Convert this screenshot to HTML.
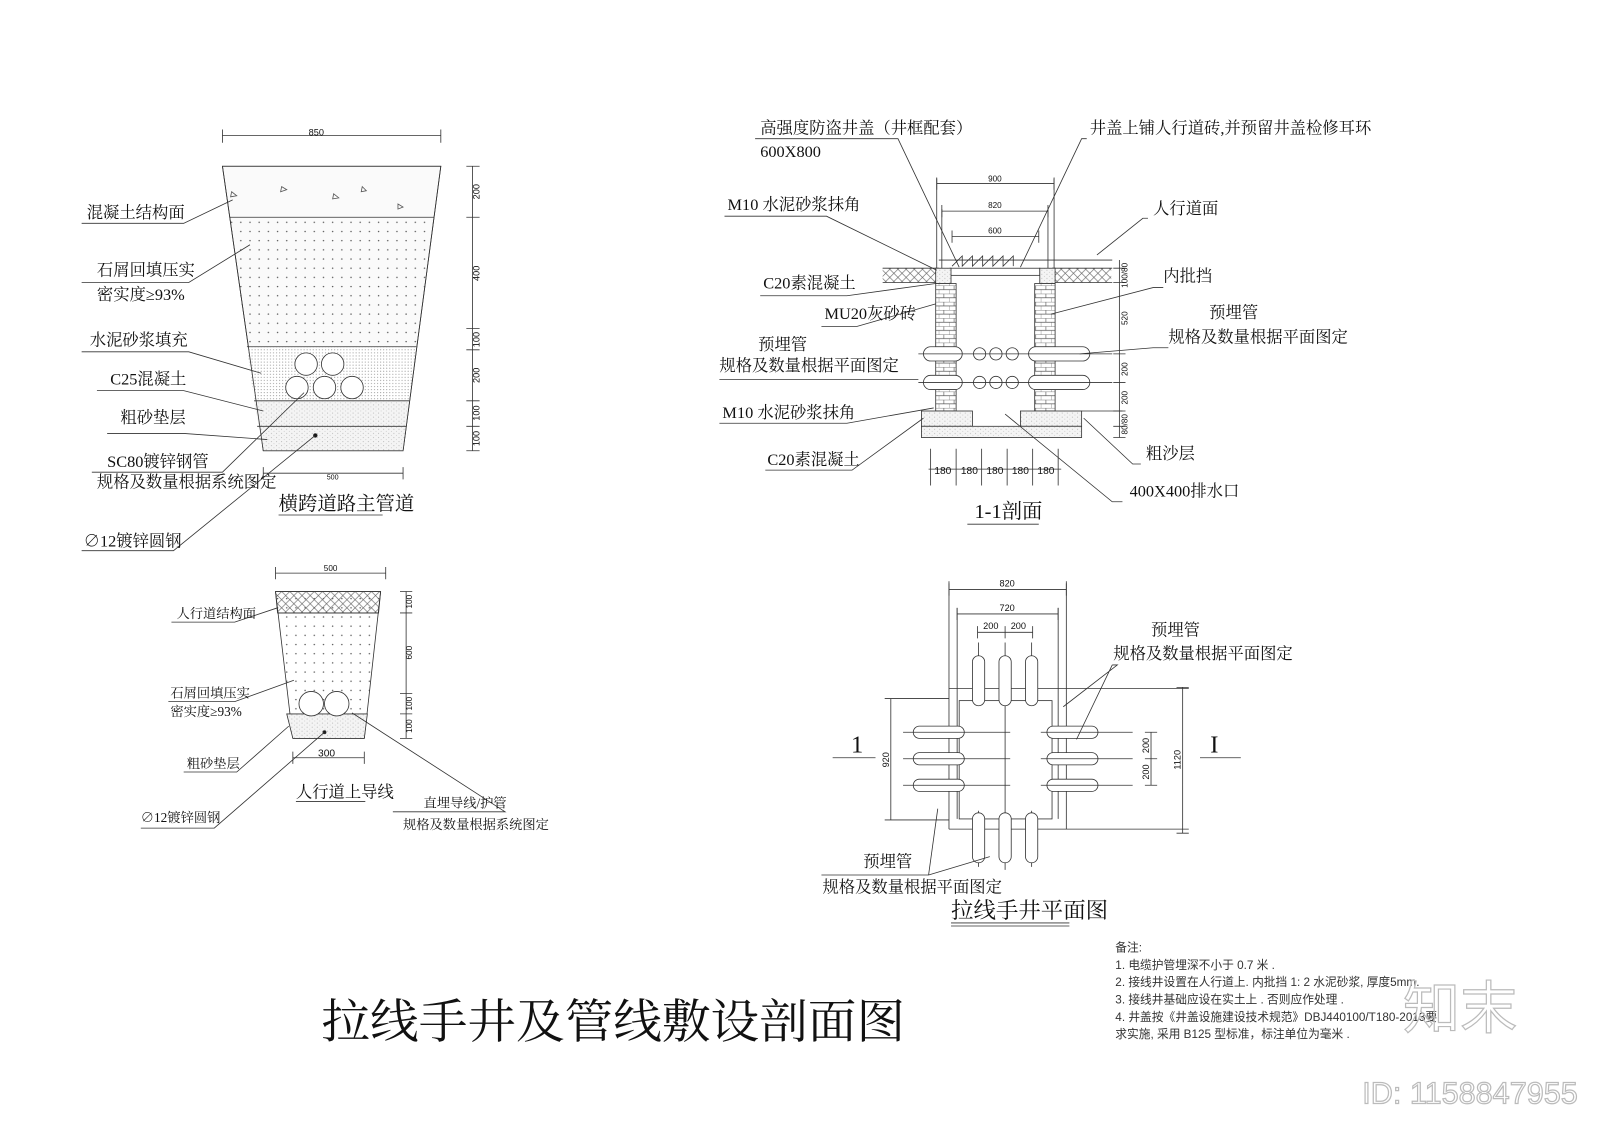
<!DOCTYPE html>
<html><head><meta charset="utf-8"><style>
html,body{margin:0;padding:0;background:#fff;}
svg{display:block}
text{font-family:"Liberation Serif","Noto Serif CJK SC","Noto Sans CJK SC",serif;fill:#111}
text.s,.s text{font-family:"Liberation Sans","Noto Sans CJK SC",sans-serif}
.wm{fill:none !important;stroke:#bbb;stroke-width:1.2}
.nt text{fill:#333}
</style></head><body>
<svg width="1600" height="1131" viewBox="0 0 1568 1109" preserveAspectRatio="none" xmlns="http://www.w3.org/2000/svg">
<defs>
<pattern id="dots" width="9" height="9" patternUnits="userSpaceOnUse"><circle cx="2" cy="2" r="0.7" fill="#555"/></pattern>
<pattern id="fine" width="3" height="3" patternUnits="userSpaceOnUse"><rect width="3" height="3" fill="#fff"/><circle cx="1" cy="1" r="0.5" fill="#888"/></pattern>
<pattern id="sand" width="5" height="4" patternUnits="userSpaceOnUse"><rect width="5" height="4" fill="#f4f4f4"/><circle cx="1" cy="1" r="0.5" fill="#aaa"/><circle cx="3.5" cy="3" r="0.4" fill="#bbb"/></pattern>
<pattern id="hatch" width="8" height="8" patternUnits="userSpaceOnUse"><path d="M0 8L8 0M0 0L8 8" stroke="#666" stroke-width="0.6"/></pattern>
<pattern id="brick" width="10" height="8" patternUnits="userSpaceOnUse"><rect width="10" height="8" fill="#fff"/><path d="M0 0H10M0 4H10M5 0V4M0 4V8" stroke="#555" stroke-width="0.6"/></pattern>
</defs>
<g stroke="#333" stroke-width="0.8" fill="none">
<!-- Diagram 1 -->
<path d="M218 133H432M218 127V140M432 127V140"/>
<polygon points="218,163 432,163 395,442 258,442" fill="#fafafa"/>
<polygon points="225,213 425,213 408,340 242,340" fill="url(#dots)" stroke="none"/>
<polygon points="242,340 408,340 401,393 249,393" fill="url(#fine)" stroke="none"/>
<polygon points="249,393 401,393 395,442 258,442" fill="url(#sand)" stroke="none"/>
<polygon points="218,163 432,163 395,442 258,442"/>
<path d="M225 213H425M242 340H408M249 393H401M252 418H398"/>
<g fill="#fff"><circle cx="300" cy="357" r="11"/><circle cx="326" cy="357" r="11"/><circle cx="291" cy="380" r="11"/><circle cx="318" cy="380" r="11"/><circle cx="345" cy="380" r="11"/></g>
<circle cx="309" cy="427" r="1.8" fill="#111"/>
<g fill="none" stroke="#555"><path d="M227 188l5 4-6 1zM276 183l5 3-6 2zM327 190l5 4-6 1zM355 183l4 4-5 1zM390 200l5 3-5 2z"/></g>
<path d="M463 163V442M457 163H470M457 213H470M457 322H470M457 343H470M457 393H470M457 418H470M457 442H470"/>
<path d="M258 464H395M258 458V470M395 458V470"/>
<path d="M80 219H180L228 196M80 277H185L245 240M80 345H185L256 366M95 383H180L258 403M105 425H180L262 431M90 463H218L298 385M273 505H375M80 540H170L309 427"/>
<!-- Diagram 2 -->
<path d="M270 562H378M270 556V568M378 556V568"/>
<polygon points="270,580 373,580 357,724 287,724" fill="url(#dots)"/>
<polygon points="270,580 373,580 371,601 272,601" fill="url(#hatch)"/>
<polygon points="281,700 360,700 357,724 287,724" fill="url(#sand)"/>
<path d="M272 601H371M281 700H360"/>
<circle cx="305" cy="690" r="12" fill="#fff"/><circle cx="330" cy="690" r="12" fill="#fff"/>
<circle cx="318" cy="718" r="1.5" fill="#111"/>
<path d="M398 580V724M392 580H404M392 601H404M392 680H404M392 700H404M392 724H404"/>
<path d="M287 743H357M287 737V749M357 737V749"/>
<path d="M168 610H230L272 596M165 688H230L288 667M180 757H232L283 712M138 812H210L318 718M290 786H358M385 796H495L345 699"/>
<!-- Diagram 3 section -->
<path d="M918 180H1033M918 174V186M1033 174V186M923 207H1027M923 201V213M1027 201V213M933 232H1018M933 226V238M1018 226V238"/>
<path d="M918 175V270M1033 175V270M923 205V270M1027 205V270"/>
<rect x="865" y="263" width="55" height="14" fill="url(#hatch)" stroke="none"/>
<rect x="1031" y="263" width="58" height="14" fill="url(#hatch)" stroke="none"/>
<path d="M865 263H920M865 277H920M1031 263H1090M1031 277H1090"/>
<rect x="931" y="263" width="88" height="7" fill="#fff"/>
<path d="M933 261l10 -10v10l10 -10v10l10 -10v10l10 -10v10l10 -10v10l10 -10v10"/>
<path d="M920 255H1090"/>
<rect x="917" y="263" width="15" height="15" fill="url(#sand)"/>
<rect x="1019" y="263" width="15" height="15" fill="url(#sand)"/>
<rect x="917" y="278" width="20" height="125" fill="url(#brick)"/>
<rect x="1014" y="278" width="20" height="125" fill="url(#brick)"/>
<rect x="903" y="403" width="50" height="15" fill="url(#sand)"/>
<rect x="1000" y="403" width="60" height="15" fill="url(#sand)"/>
<rect x="903" y="418" width="157" height="11" fill="url(#sand)"/>
<g fill="#fff"><rect x="905" y="340" width="38" height="14" rx="7"/><rect x="1008" y="340" width="60" height="14" rx="7"/><rect x="905" y="368" width="38" height="14" rx="7"/><rect x="1008" y="368" width="60" height="14" rx="7"/>
<circle cx="960" cy="347" r="6"/><circle cx="976" cy="347" r="6"/><circle cx="992" cy="347" r="6"/><circle cx="960" cy="375" r="6"/><circle cx="976" cy="375" r="6"/><circle cx="992" cy="375" r="6"/></g>
<path d="M900 347H1090M900 375H1090M1060 403H1100"/>
<path d="M1097 255V429M1091 263H1103M1091 277H1103M1091 347H1103M1091 375H1103M1091 403H1103M1091 418H1103M1091 429H1103"/>
<path d="M910 460H1040M912 440V476M937 440V476M962 440V476M987 440V476M1012 440V476M1037 440V476"/>
<path d="M740 136H880L940 262M1065 136H1060L1000 262M710 212H810L918 265M1125 214H1120L1075 250M745 290H830L917 278M1140 282H1130L1030 308M805 320H840L917 298M1145 341H1130L1058 347M705 372H900M705 415H830L915 400M750 461H835L905 410M1118 455H1110L1062 410M1100 492H1090L985 406M948 514H1018"/>
<!-- Diagram 4 plan -->
<path d="M930 578H1045M930 572V584M1045 572V584M938 602H1037M938 596V608M1037 596V608M958 620H1012M958 614V626M985 614V626M1012 614V626"/>
<path d="M930 570V813M1045 570V813M938 596V803M1037 596V803"/>
<path d="M930 675H1165M930 813H1165"/>
<rect x="940" y="687" width="91" height="116"/>
<path d="M873 685V804M867 685H930M867 804H930M1159 674V817M1153 674H1165M1153 817H1165M1128 718V770M1122 718H1134M1122 744H1134M1122 770H1134"/>
<path d="M985 630V853M959 630V680M1011 630V680M959 795V850M1011 795V850"/>
<g fill="#fff">
<rect x="953" y="643" width="12" height="49" rx="6"/><rect x="979" y="643" width="12" height="49" rx="6"/><rect x="1005" y="643" width="12" height="49" rx="6"/>
<rect x="953" y="797" width="12" height="49" rx="6"/><rect x="979" y="797" width="12" height="49" rx="6"/><rect x="1005" y="797" width="12" height="49" rx="6"/>
<rect x="895" y="712" width="50" height="12" rx="6"/><rect x="895" y="738" width="50" height="12" rx="6"/><rect x="895" y="764" width="50" height="12" rx="6"/>
<rect x="1026" y="712" width="50" height="12" rx="6"/><rect x="1026" y="738" width="50" height="12" rx="6"/><rect x="1026" y="764" width="50" height="12" rx="6"/>
</g>
<path d="M885 718H990M885 744H990M885 770H990M1020 718H1110M1020 744H1110M1020 770H1110"/>
<path d="M816 743H858M1176 743H1216M1090 652H1095L1042 693M1090 652L1055 725M805 858H910L919 793M910 858L970 840M932 905H1048M932 908H1048"/>
</g>
<g stroke="none">
<text x="310" y="133" font-size="9" class="s" text-anchor="middle">850</text>
<text x="326" y="470" font-size="7" class="s" text-anchor="middle" fill="#666">500</text>
<g font-size="9" class="s"><text transform="translate(470,188) rotate(-90)" text-anchor="middle">200</text><text transform="translate(470,268) rotate(-90)" text-anchor="middle">400</text><text transform="translate(470,333) rotate(-90)" text-anchor="middle">100</text><text transform="translate(470,368) rotate(-90)" text-anchor="middle">200</text><text transform="translate(470,405) rotate(-90)" text-anchor="middle">100</text><text transform="translate(470,430) rotate(-90)" text-anchor="middle">100</text></g>
<g font-size="16"><text x="85" y="214">混凝土结构面</text><text x="95" y="270">石屑回填压实</text><text x="95" y="294">密实度≥93%</text><text x="88" y="339">水泥砂浆填充</text><text x="108" y="377">C25混凝土</text><text x="118" y="415">粗砂垫层</text><text x="105" y="458">SC80镀锌钢管</text><text x="95" y="478">规格及数量根据系统图定</text><text x="82" y="536">∅12镀锌圆钢</text></g>
<text x="273" y="500" font-size="19">横跨道路主管道</text>
<text x="324" y="560" font-size="8" class="s" text-anchor="middle">500</text>
<g font-size="8" class="s"><text transform="translate(404,590) rotate(-90)" text-anchor="middle">100</text><text transform="translate(404,640) rotate(-90)" text-anchor="middle">600</text><text transform="translate(404,690) rotate(-90)" text-anchor="middle">100</text><text transform="translate(404,712) rotate(-90)" text-anchor="middle">100</text></g>
<text x="320" y="742" font-size="10" class="s" text-anchor="middle">300</text>
<g font-size="13"><text x="173" y="606">人行道结构面</text><text x="167" y="684">石屑回填压实</text><text x="167" y="702">密实度≥93%</text><text x="183" y="753">粗砂垫层</text><text x="138" y="806">∅12镀锌圆钢</text><text x="415" y="792">直埋导线/护管</text><text x="395" y="813">规格及数量根据系统图定</text></g>
<text x="290" y="782" font-size="16">人行道上导线</text>
<g font-size="8" class="s" text-anchor="middle"><text x="975" y="178">900</text><text x="975" y="204">820</text><text x="975" y="229">600</text></g>
<g font-size="8" class="s"><text transform="translate(1105,270) rotate(-90)" text-anchor="middle">100/80</text><text transform="translate(1105,312) rotate(-90)" text-anchor="middle">520</text><text transform="translate(1105,362) rotate(-90)" text-anchor="middle">200</text><text transform="translate(1105,390) rotate(-90)" text-anchor="middle">200</text><text transform="translate(1105,416) rotate(-90)" text-anchor="middle">80/80</text></g>
<g font-size="10" class="s" text-anchor="middle"><text x="924" y="465">180</text><text x="950" y="465">180</text><text x="975" y="465">180</text><text x="1000" y="465">180</text><text x="1025" y="465">180</text></g>
<g font-size="16"><text x="745" y="131">高强度防盗井盖（井框配套）</text><text x="745" y="154">600X800</text><text x="1068" y="131">井盖上铺人行道砖,并预留井盖检修耳环</text><text x="713" y="206">M10 水泥砂浆抹角</text><text x="1130" y="210">人行道面</text><text x="748" y="283">C20素混凝土</text><text x="1140" y="276">内批挡</text><text x="808" y="313">MU20灰砂砖</text><text x="1185" y="312">预埋管</text><text x="1145" y="336">规格及数量根据平面图定</text><text x="743" y="343">预埋管</text><text x="705" y="364">规格及数量根据平面图定</text><text x="708" y="410">M10 水泥砂浆抹角</text><text x="752" y="456">C20素混凝土</text><text x="1123" y="450">粗沙层</text><text x="1107" y="487">400X400排水口</text></g>
<text x="955" y="508" font-size="20">1-1剖面</text>
<g font-size="9" class="s" text-anchor="middle"><text x="987" y="575">820</text><text x="987" y="599">720</text><text x="971" y="617">200</text><text x="998" y="617">200</text></g>
<g font-size="9" class="s"><text transform="translate(871,745) rotate(-90)" text-anchor="middle">920</text><text transform="translate(1157,745) rotate(-90)" text-anchor="middle">1120</text><text transform="translate(1126,731) rotate(-90)" text-anchor="middle">200</text><text transform="translate(1126,757) rotate(-90)" text-anchor="middle">200</text></g>
<text x="834" y="738" font-size="24">1</text><text x="1186" y="738" font-size="24">I</text>
<g font-size="16"><text x="1128" y="623">预埋管</text><text x="1091" y="646">规格及数量根据平面图定</text><text x="846" y="850">预埋管</text><text x="806" y="875">规格及数量根据平面图定</text></g>
<text x="932" y="900" font-size="22">拉线手井平面图</text>
<text x="315" y="1018" font-size="46" textLength="572" lengthAdjust="spacingAndGlyphs">拉线手井及管线敷设剖面图</text>
<g font-size="11.5" class="s nt"><text x="1093" y="933">备注:</text><text x="1093" y="950">1.  电缆护管埋深不小于 0.7 米 .</text><text x="1093" y="967">2.  接线井设置在人行道上. 内批挡 1: 2 水泥砂浆, 厚度5mm.</text><text x="1093" y="984">3.  接线井基础应设在实土上 . 否则应作处理 .</text><text x="1093" y="1001">4.  井盖按《井盖设施建设技术规范》DBJ440100/T180-2013要</text><text x="1093" y="1018">求实施, 采用      B125 型标准，标注单位为毫米 .</text></g>
<text x="1375" y="1008" font-size="56" class="s wm">知末</text>
<text x="1335" y="1082" font-size="30" class="s wm">ID: 1158847955</text>
</g>
</svg>
</body></html>
